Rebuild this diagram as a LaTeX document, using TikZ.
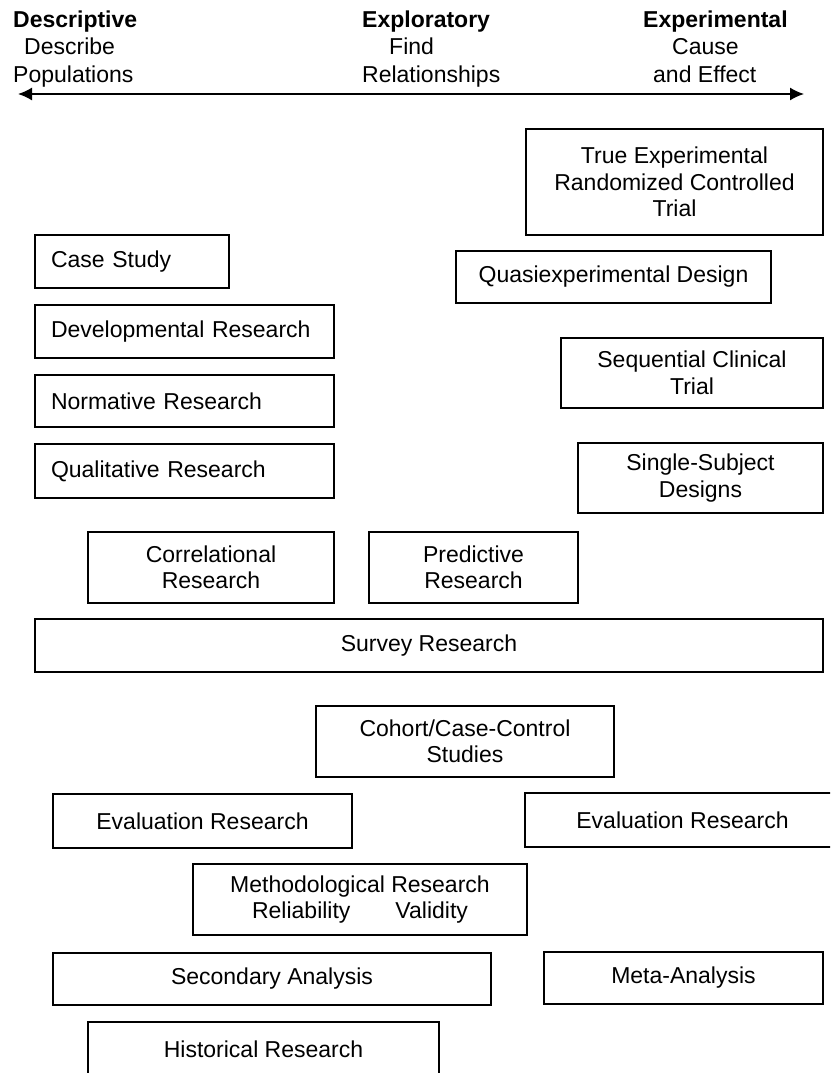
\documentclass[tikz,border=0pt]{standalone}
\usepackage{fontspec}
\setmainfont{Liberation Sans}
\usetikzlibrary{arrows.meta}
\tikzset{
  txt/.style={font=\fontsize{23}{26.5}\selectfont, inner sep=0pt, anchor=base west},
  hdr/.style={txt, font=\fontsize{23}{26.5}\selectfont\bfseries},
  box/.style={draw, line width=1.5pt, inner sep=0pt, align=center,
              font=\fontsize{23}{26.5}\selectfont},
  lbox/.style={box, align=left},
  axis/.style={line width=1.5pt, {Latex[length=14pt,width=13pt]}-{Latex[length=14pt,width=13pt]}}
}
\begin{document}
\begin{tikzpicture}[x=1pt,y=-1pt]
\useasboundingbox (0,0) rectangle (830,1073);
\fill[white] (0,0) rectangle (830,1073);
\clip (0,0) rectangle (830,1073);

% header
\node[hdr] (desc) at (13,28) {Descriptive};
\node[txt] (desc1) at (24,55) {Describe};
\node[txt] (desc2) at (13,82) {Populations};
\node[hdr] (expl) at (362,28) {Exploratory};
\node[txt] (expl1) at (389,55) {Find};
\node[txt] (expl2) at (362,82) {Relationships};
\node[hdr] (expe) at (643,28) {Experimental};
\node[txt] (expe1) at (672,55) {Cause};
\node[txt] (expe2) at (653,82) {and Effect};

\coordinate (axL) at (18,94);
\coordinate (axR) at (804,94);
\draw[axis] (axL) -- (axR);

% boxes: center (x,y), size
\node[box, minimum width=297pt, minimum height=106pt] (trueexp) at (674.5,182)
  {True Experimental\\Randomized Controlled\\Trial};
\node[lbox, text width=162pt, minimum width=194pt, minimum height=53pt] (case) at (132,261.5) {Case Study};
\node[box, minimum width=315pt, minimum height=52pt] (quasi) at (613.5,277) {Quasiexperimental Design};
\node[lbox, text width=267pt, minimum width=299pt, minimum height=53pt] (devel) at (184.5,331.5) {Developmental Research};
\node[box, minimum width=262pt, minimum height=70pt] (seq) at (692,373) {Sequential Clinical\\Trial};
\node[lbox, text width=267pt, minimum width=299pt, minimum height=52pt] (norm) at (184.5,401) {Normative Research};
\node[lbox, text width=267pt, minimum width=299pt, minimum height=54pt] (qual) at (184.5,471) {Qualitative Research};
\node[box, minimum width=245pt, minimum height=70pt] (single) at (700.5,478) {Single-Subject\\Designs};
\node[box, minimum width=246pt, minimum height=71pt] (correl) at (211,567.5) {Correlational\\Research};
\node[box, minimum width=209pt, minimum height=71pt] (predict) at (473.5,567.5) {Predictive\\Research};
\node[box, minimum width=788pt, minimum height=53pt] (survey) at (429,645.5) {Survey Research};
\node[box, minimum width=298pt, minimum height=71pt] (cohort) at (465,741.5) {Cohort/Case-Control\\Studies};
\node[box, minimum width=299pt, minimum height=54pt] (evalL) at (202.5,821) {Evaluation Research};
\node[box, minimum width=315pt, minimum height=54pt] (evalR) at (682.5,820) {Evaluation Research};
\node[box, minimum width=334pt, minimum height=71pt] (method) at (360,899.5)
  {Methodological Research\\Reliability\hspace{45pt}Validity};
\node[box, minimum width=438pt, minimum height=52pt] (second) at (272,979) {Secondary Analysis};
\node[box, minimum width=279pt, minimum height=52pt] (meta) at (683.5,978) {Meta-Analysis};
\node[box, minimum width=351pt, minimum height=54pt] (hist) at (263.5,1049) {Historical Research};
\end{tikzpicture}
\end{document}
